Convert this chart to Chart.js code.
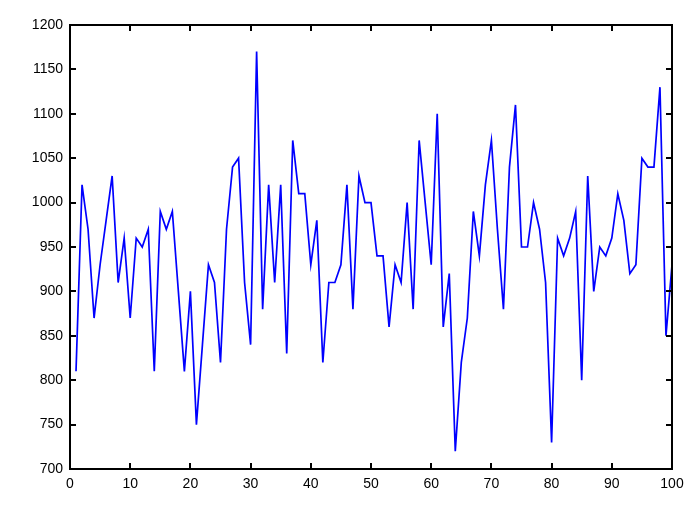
<!DOCTYPE html>
<html>
<head>
  <meta charset="UTF-8" />
  <script src="https://cdn.jsdelivr.net/npm/chart.js"></script>
  <style>
    body, html {
      margin: 0;
      padding: 0;
      background: #ffffff;
    }
    #wrap {
      width: 688px;
      height: 516px;
    }
  </style>
</head>
<body>
  <div id="wrap"><canvas id="myChart" width="688" height="516"></canvas></div>
  <script>
    const xValues = [];
    for (let i = 1; i <= 100; i++) xValues.push(i);

    const yValues = [
      810, 1020, 970, 870, 930, 980, 1030, 910, 960, 870,
      960, 950, 970, 810, 990, 970, 990, 900, 810, 900,
      750, 840, 930, 910, 820, 970, 1040, 1050, 910, 840,
      1170, 880, 1020, 910, 1020, 830, 1070, 1010, 1010, 930,
      980, 820, 910, 910, 930, 1020, 880, 1030, 1000, 1000,
      940, 940, 860, 930, 910, 1000, 880, 1070, 1000, 930,
      1100, 860, 920, 720, 820, 870, 990, 940, 1020, 1070,
      970, 880, 1040, 1110, 950, 950, 1000, 970, 910, 730,
      960, 940, 960, 990, 800, 1030, 900, 950, 940, 960,
      1010, 980, 920, 930, 1050, 1040, 1040, 1130, 850, 930
    ];

    const xTicks = [0, 10, 20, 30, 40, 50, 60, 70, 80, 90, 100];
    const yTicks = [700, 750, 800, 850, 900, 950, 1000, 1050, 1100, 1150, 1200];

    // box round the plot, with ticks pointing inwards on all four sides
    const frame = {
      id: 'frame',
      afterDraw(chart) {
        const { ctx, chartArea: a, scales } = chart;
        ctx.save();
        ctx.strokeStyle = '#000';
        ctx.lineWidth = 2;
        ctx.beginPath();
        xTicks.forEach(v => {
          const px = Math.round(scales.x.getPixelForValue(v));
          ctx.moveTo(px, a.bottom); ctx.lineTo(px, a.bottom - 6);
          ctx.moveTo(px, a.top); ctx.lineTo(px, a.top + 6);
        });
        yTicks.forEach(v => {
          const py = Math.round(scales.y.getPixelForValue(v));
          ctx.moveTo(a.left, py); ctx.lineTo(a.left + 6, py);
          ctx.moveTo(a.right, py); ctx.lineTo(a.right - 6, py);
        });
        ctx.stroke();
        ctx.strokeRect(a.left, a.top, a.right - a.left, a.bottom - a.top);
        ctx.restore();
      }
    };

    const ctx = document.getElementById('myChart').getContext('2d');
    new Chart(ctx, {
      type: 'line',
      data: {
        labels: xValues,
        datasets: [{
          data: yValues.map((v, i) => ({ x: xValues[i], y: v })),
          borderColor: '#0000ff',
          borderWidth: 1.7,
          pointRadius: 0,
          tension: 0,
          fill: false
        }]
      },
      options: {
        responsive: false,
        animation: false,
        layout: { padding: { top: 25, right: 16, left: 0, bottom: 0 } },
        plugins: {
          legend: { display: false },
          tooltip: { enabled: false }
        },
        scales: {
          x: {
            type: 'linear',
            min: 0,
            max: 100,
            afterFit(scale) {
              scale.height = 47;
              scale.paddingLeft = 0;
              scale.paddingRight = 0;
            },
            afterBuildTicks(scale) { scale.ticks = xTicks.map(v => ({ value: v })); },
            grid: { display: false, drawTicks: false },
            border: { display: false },
            ticks: {
              padding: 7,
              color: '#000',
              font: { family: 'Liberation Sans', size: 14 },
              maxRotation: 0,
              callback: v => String(v)
            }
          },
          y: {
            min: 700,
            max: 1200,
            afterFit(scale) {
              scale.width = 70;
              scale.paddingTop = 0;
              scale.paddingBottom = 0;
            },
            afterBuildTicks(scale) { scale.ticks = yTicks.map(v => ({ value: v })); },
            grid: { display: false, drawTicks: false },
            border: { display: false },
            ticks: {
              padding: 7,
              color: '#000',
              font: { family: 'Liberation Sans', size: 14 },
              callback: v => String(v)
            }
          }
        }
      },
      plugins: [frame]
    });
  </script>
</body>
</html>
